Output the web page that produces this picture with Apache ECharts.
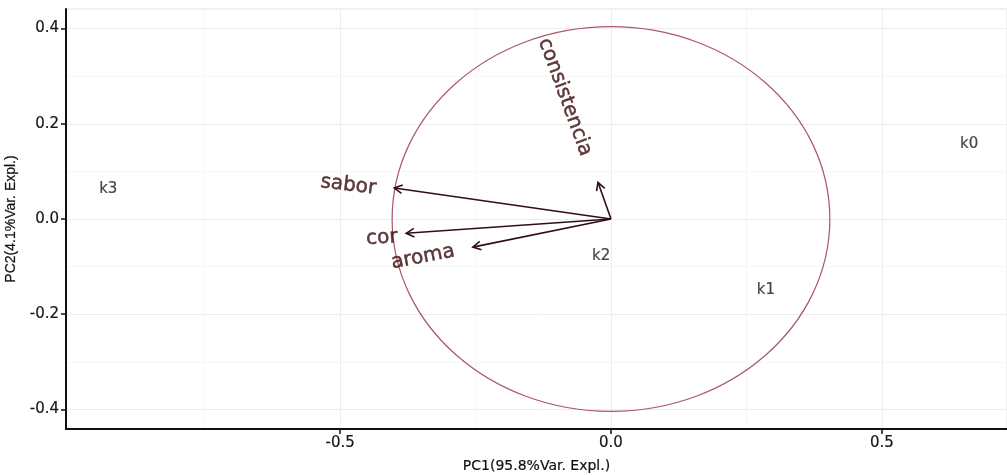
<!DOCTYPE html>
<html>
<head>
<meta charset="utf-8">
<script src="https://cdn.jsdelivr.net/npm/echarts@6/dist/echarts.min.js"></script>
<style>html,body{margin:0;padding:0;background:#fff}#c{width:1007px;height:475px}</style>
</head>
<body>
<div id="c"></div>
<script>
// Sample scores (PC1, PC2)
const sampleNames = ['k0', 'k1', 'k2', 'k3'];
const samplePC1 = [0.661, 0.286, -0.018, -0.928];
const samplePC2 = [0.157, -0.150, -0.078, 0.062];

// Variable loadings (arrow tips)
const varNames = ['sabor', 'cor', 'aroma', 'consistencia'];
const varPC1 = [-0.400, -0.378, -0.255, -0.024];
const varPC2 = [0.065, -0.030, -0.059, 0.077];

// Variable label positions and rotations
const varLabelPC1 = [-0.485, -0.423, -0.347, -0.085];
const varLabelPC2 = [0.071, -0.040, -0.080, 0.256];
const varLabelRotate = [-7, 4, 11, -70];

// Correlation circle radius
const circleRadius = 0.404;

// Tick labels
const xTicks = [-0.5, 0, 0.5];
const yTicks = [-0.4, -0.2, 0, 0.2, 0.4];

const chart = echarts.init(document.getElementById('c'));

const arrowColor = '#2e0f14';
const labelColor = '#3a0d10';
const circleColor = '#aa5866';

const option = {
  animation: false,
  backgroundColor: '#fff',
  grid: { left: 66, right: 0, top: 9, bottom: 46, show: true, borderColor: '#e2e2e2', borderWidth: 1, outerBoundsMode: 'none', containLabel: false },
  xAxis: {
    type: 'value',
    min: -1.006, max: 0.731, splitNumber: 3,
    name: 'PC1(95.8%Var. Expl.)', nameLocation: 'middle', nameGap: 30,
    nameTextStyle: { fontFamily: 'DejaVu Sans', fontSize: 14, color: '#111', textBorderColor: '#111', textBorderWidth: 0.2 },
    axisLine: { show: true, onZero: false, lineStyle: { color: '#111', width: 2 } },
    axisTick: { show: true, customValues: xTicks, length: 5, lineStyle: { color: '#111', width: 1.5 } },
    axisLabel: { customValues: xTicks, fontFamily: 'DejaVu Sans', fontSize: 15, color: '#151515', margin: 7,
      textBorderColor: '#151515', textBorderWidth: 0.2,
      formatter: v => v === 0 ? '0.0' : String(v) },
    splitLine: { show: true, lineStyle: { color: '#ededed', width: 1 } },
    minorTick: { show: false, splitNumber: 2 },
    minorSplitLine: { show: true, lineStyle: { color: '#f6f6f6', width: 1 } }
  },
  yAxis: {
    type: 'value',
    min: -0.441, max: 0.441, splitNumber: 4,
    name: 'PC2(4.1%Var. Expl.)', nameLocation: 'middle', nameGap: 47,
    nameTextStyle: { fontFamily: 'Liberation Sans', fontSize: 14, color: '#111', textBorderColor: '#111', textBorderWidth: 0.2 },
    axisLine: { show: true, onZero: false, lineStyle: { color: '#111', width: 2 } },
    axisTick: { show: true, customValues: yTicks, length: 5, lineStyle: { color: '#111', width: 1.5 } },
    axisLabel: { customValues: yTicks, fontFamily: 'DejaVu Sans', fontSize: 15, color: '#151515', margin: 7,
      textBorderColor: '#151515', textBorderWidth: 0.2,
      formatter: v => v.toFixed(1) },
    splitLine: { show: true, lineStyle: { color: '#ededed', width: 1 } },
    minorTick: { show: false, splitNumber: 2 },
    minorSplitLine: { show: true, lineStyle: { color: '#f6f6f6', width: 1 } }
  },
  series: [
    {
      type: 'custom',
      silent: true,
      data: [[0, 0, circleRadius]],
      renderItem: function (params, api) {
        const c = api.coord([api.value(0), api.value(1)]);
        const e = api.coord([api.value(0) + api.value(2), api.value(1) + api.value(2)]);
        return {
          type: 'ellipse',
          shape: { cx: c[0], cy: c[1], rx: e[0] - c[0], ry: c[1] - e[1] },
          style: { fill: 'none', stroke: circleColor, lineWidth: 1.2 }
        };
      }
    },
    {
      type: 'custom',
      silent: true,
      data: varPC1.map((x, i) => [x, varPC2[i]]),
      renderItem: function (params, api) {
        const o = api.coord([0, 0]);
        const t = api.coord([api.value(0), api.value(1)]);
        const a = Math.atan2(t[1] - o[1], t[0] - o[0]);
        const L = 9, s = 0.5;
        const p1 = [t[0] - L * Math.cos(a - s), t[1] - L * Math.sin(a - s)];
        const p2 = [t[0] - L * Math.cos(a + s), t[1] - L * Math.sin(a + s)];
        return {
          type: 'group',
          children: [
            { type: 'line', shape: { x1: o[0], y1: o[1], x2: t[0], y2: t[1] },
              style: { stroke: arrowColor, lineWidth: 1.6 } },
            { type: 'polyline', shape: { points: [p1, t, p2] },
              style: { stroke: arrowColor, lineWidth: 1.6, fill: 'none' } }
          ]
        };
      }
    },
    {
      type: 'scatter',
      silent: true,
      symbolSize: 1,
      itemStyle: { color: 'rgba(0,0,0,0)' },
      data: sampleNames.map((n, i) => ({ name: n, value: [samplePC1[i], samplePC2[i]] })),
      label: { show: true, position: 'inside', formatter: '{b}', fontFamily: 'DejaVu Sans', fontSize: 15, color: '#151515',
        textBorderColor: '#151515', textBorderWidth: 0.2 }
    },
    {
      type: 'scatter',
      silent: true,
      symbolSize: 1,
      itemStyle: { color: 'rgba(0,0,0,0)' },
      data: varNames.map((n, i) => ({ name: n, value: [varLabelPC1[i], varLabelPC2[i]], label: { rotate: varLabelRotate[i] } })),
      label: { show: true, position: 'inside', formatter: '{b}', fontFamily: 'DejaVu Sans', fontSize: 20, color: labelColor,
        textBorderColor: labelColor, textBorderWidth: 0.5 }
    }
  ]
};
chart.setOption(option);
</script>
</body>
</html>
